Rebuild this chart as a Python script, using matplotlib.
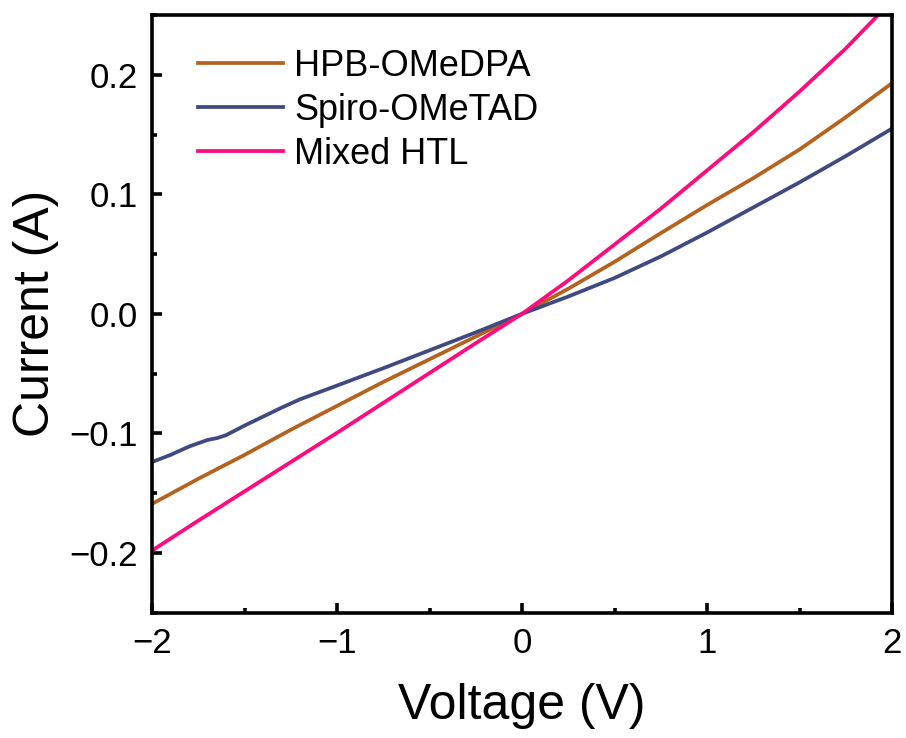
import matplotlib
matplotlib.use("Agg")
import matplotlib.pyplot as plt
from matplotlib.ticker import MultipleLocator

plt.rcParams["font.family"] = ["Liberation Sans", "DejaVu Sans"]

# Voltage sweep points (V) and currents (A)
v_hpb = [-2.0, -1.75, -1.5, -1.25, -1.0, -0.75, -0.5, -0.25, 0.0,
         0.25, 0.5, 0.75, 1.0, 1.25, 1.5, 1.75, 2.0]
i_hpb = [-0.159, -0.138, -0.118, -0.097, -0.077, -0.057, -0.038, -0.019, 0.0,
         0.021, 0.0435, 0.0675, 0.091, 0.1135, 0.1375, 0.1645, 0.193]

v_spiro = [-2.0, -1.9, -1.8, -1.7, -1.65, -1.6, -1.5, -1.4, -1.3, -1.2, -1.0,
           -0.75, -0.5, -0.25, 0.0, 0.25, 0.5, 0.75, 1.0, 1.25, 1.5, 1.75, 2.0]
i_spiro = [-0.124, -0.118, -0.111, -0.1055, -0.104, -0.1015, -0.0935, -0.086,
           -0.0785, -0.0715, -0.060, -0.0455, -0.0305, -0.0155, 0.0,
           0.0145, 0.030, 0.048, 0.068, 0.089, 0.110, 0.132, 0.155]

v_mixed = [-2.0, -1.75, -1.5, -1.25, -1.0, -0.75, -0.5, -0.25, 0.0,
           0.25, 0.5, 0.75, 1.0, 1.25, 1.5, 1.75, 2.0]
i_mixed = [-0.198, -0.173, -0.1485, -0.124, -0.0995, -0.0745, -0.0495, -0.0245, 0.0,
           0.028, 0.058, 0.088, 0.120, 0.152, 0.186, 0.222, 0.262]

labels = ["HPB-OMeDPA", "Spiro-OMeTAD", "Mixed HTL"]
colors = ["#B5621E", "#414A80", "#FF0A7F"]

fig = plt.figure(figsize=(9.06, 7.38), dpi=100)
ax = fig.add_axes([0.1678, 0.1698, 0.8168, 0.8099])

for v, i, lab, c in zip([v_hpb, v_spiro, v_mixed], [i_hpb, i_spiro, i_mixed], labels, colors):
    ax.plot(v, i, color=c, linewidth=2.7, label=lab)

ax.set_xlim(-2, 2)
ax.set_ylim(-0.25, 0.25)
ax.xaxis.set_major_locator(MultipleLocator(1))
ax.xaxis.set_minor_locator(MultipleLocator(0.5))
ax.yaxis.set_minor_locator(MultipleLocator(0.05))
ax.set_yticks([-0.2, -0.1, 0.0, 0.1, 0.2])
ax.set_yticklabels(["\u22120.2", "\u22120.1", "0.0", "0.1", "0.2"])

for sp in ax.spines.values():
    sp.set_linewidth(2.6)
ax.tick_params(which="major", direction="in", length=7.5, width=2.6, labelsize=25, pad=10)
ax.tick_params(which="minor", direction="in", length=3.8, width=2.6)

ax.set_xlabel("Voltage (V)", fontsize=36, labelpad=17)
ax.set_ylabel("Current (A)", fontsize=36, labelpad=8)

leg = ax.legend(loc="upper left", bbox_to_anchor=(0.043, 0.968), frameon=False,
                fontsize=26, handlelength=2.35, handletextpad=0.3, labelspacing=0.25,
                borderaxespad=0)
for ln in leg.get_lines():
    ln.set_linewidth(2.7)

fig.savefig("out.png", dpi=100)
